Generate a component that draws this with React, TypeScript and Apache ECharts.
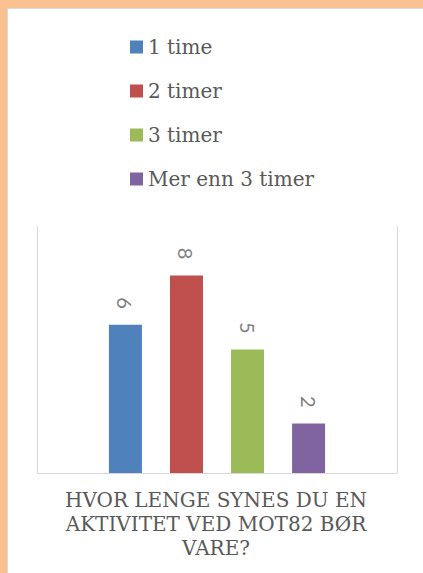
import React, { useEffect, useRef } from "react";
import * as echarts from "echarts";

const categories = ["1 time", "2 timer", "3 timer", "Mer enn 3 timer"];
const values = [6, 8, 5, 2];
const colors = ["#4F81BD", "#C0504D", "#9BBB59", "#8064A2"];
const yMin = 0;
const yMax = 10;
const yInterval = 2;
const titleLines = ["HVOR LENGE SYNES DU EN", "AKTIVITET VED MOT82 BØR", "VARE?"];

export default function App() {
  const ref = useRef<HTMLDivElement>(null);
  useEffect(() => {
    document.body.style.margin = "0";
    if (!ref.current) return;
    const chart = echarts.init(ref.current, undefined, { renderer: "svg" });
    const axisLine = { show: true, lineStyle: { color: "#d9d9d9", width: 1 } };
    const yAxisBase = {
      type: "value" as const,
      min: yMin,
      max: yMax,
      interval: yInterval,
      splitLine: { show: false },
      axisLabel: { show: false },
      axisTick: { show: false },
      axisLine,
    };
    chart.setOption({
      animation: false,
      backgroundColor: "#ffffff",
      graphic: [
        { type: "rect", shape: { x: 0, y: 0, width: 423, height: 8 }, style: { fill: "#FAC090" }, z: 100 },
        { type: "rect", shape: { x: 0, y: 0, width: 7, height: 573 }, style: { fill: "#FAC090" }, z: 100 },
        { type: "line", shape: { x1: 7, y1: 8.5, x2: 423, y2: 8.5 }, style: { stroke: "#d9d9d9", lineWidth: 1 }, z: 100 },
        { type: "line", shape: { x1: 7.5, y1: 8, x2: 7.5, y2: 573 }, style: { stroke: "#d9d9d9", lineWidth: 1 }, z: 100 },
        {
          type: "text",
          x: 216,
          y: 488,
          style: {
            text: titleLines.join("\n"),
            align: "center",
            verticalAlign: "top",
            fontFamily: "DejaVu Serif",
            fontSize: 20,
            lineHeight: 24,
            fill: "#595959",
          },
        },
      ],
      legend: {
        orient: "vertical",
        left: 130,
        top: 37,
        padding: 0,
        itemWidth: 13,
        itemHeight: 13,
        itemGap: 24,
        icon: "rect",
        data: categories,
        textStyle: { fontFamily: "DejaVu Serif", fontSize: 20, lineHeight: 20, color: "#595959" },
      },
      grid: { left: 37, right: 26, top: 226, bottom: 100 },
      xAxis: {
        type: "category",
        data: [""],
        axisLine,
        axisTick: { show: false },
        axisLabel: { show: false },
      },
      yAxis: [
        { ...yAxisBase, position: "left" },
        { ...yAxisBase, position: "right" },
      ],
      series: categories.map((name, i) => ({
        type: "bar",
        name,
        data: [values[i]],
        barWidth: 33,
        barGap: "85%",
        itemStyle: { color: colors[i] },
        label: {
          show: true,
          position: "top",
          distance: 16,
          rotate: -90,
          align: "right",
          verticalAlign: "middle",
          fontFamily: "Lato",
          fontSize: 20,
          color: "#7f7f7f",
          formatter: "{c}",
        },
      })),
    });
    return () => chart.dispose();
  }, []);
  return <div ref={ref} style={{ position: "absolute", left: 0, top: 0, width: 423, height: 573 }} />;
}
